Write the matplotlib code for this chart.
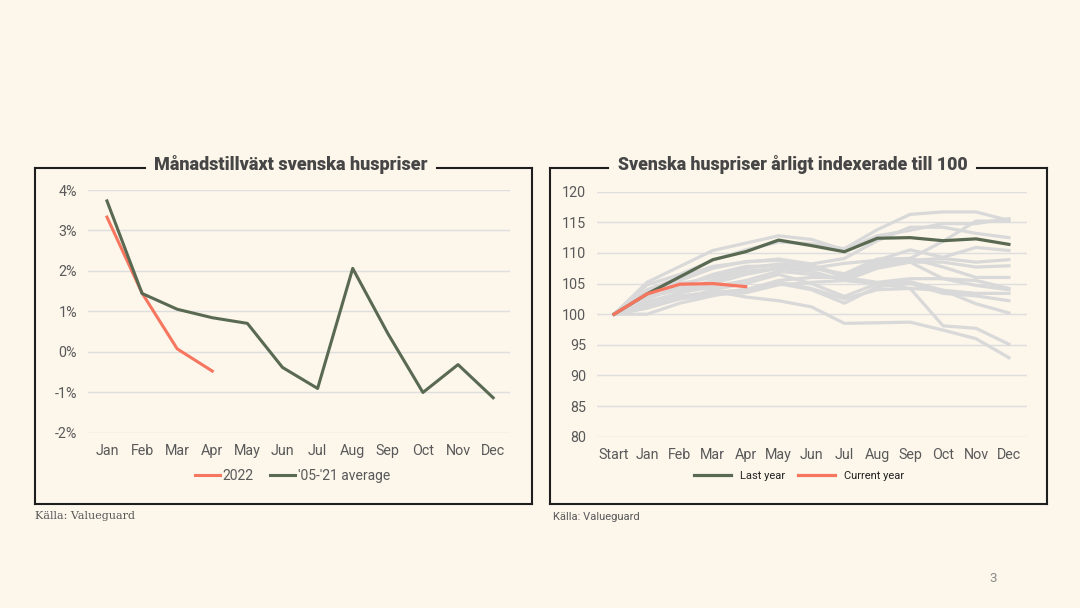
import matplotlib.pyplot as plt
from matplotlib.lines import Line2D

# --- data ---
months = ['Jan', 'Feb', 'Mar', 'Apr', 'May', 'Jun', 'Jul', 'Aug', 'Sep', 'Oct', 'Nov', 'Dec']
growth_2022 = [3.33, 1.45, 0.07, -0.48]
growth_avg = [3.73, 1.44, 1.05, 0.84, 0.70, -0.39, -0.91, 2.06, 0.45, -1.01, -0.32, -1.14]

idx_labels = ['Start'] + months
last_year = [100, 103.3, 106.1, 108.9, 110.2, 112.1, 111.2, 110.2, 112.4, 112.5, 112.0, 112.3, 111.4]
current_year = [100, 103.3, 104.9, 105.0, 104.5]
history = [
    [100, 104.8, 106.5, 108.8, 110.5, 111.8, 111.5, 110.7, 113.8, 116.3, 116.7, 116.7, 115.3],
    [100, 105.2, 107.8, 110.4, 111.6, 112.8, 112.2, 110.5, 112.8, 113.7, 114.8, 114.8, 115.6],
    [100, 103.0, 105.5, 107.5, 108.6, 108.8, 108.0, 106.3, 108.3, 109.1, 111.9, 115.2, 115.2],
    [100, 104.0, 106.0, 107.8, 108.5, 109.0, 108.2, 109.1, 112.0, 114.2, 114.2, 113.2, 112.5],
    [100, 102.5, 104.5, 106.5, 107.8, 107.9, 107.5, 108.3, 108.8, 110.5, 109.3, 110.9, 110.4],
    [100, 103.5, 105.0, 106.0, 107.5, 108.2, 107.8, 106.1, 108.5, 108.8, 109.1, 108.5, 108.9],
    [100, 101.5, 103.5, 105.0, 106.5, 107.5, 107.0, 105.5, 107.5, 108.5, 108.5, 107.7, 107.9],
    [100, 102.8, 104.0, 105.5, 107.0, 107.5, 107.5, 106.6, 109.0, 109.1, 107.7, 106.0, 106.0],
    [100, 102.0, 103.5, 104.5, 105.5, 107.0, 106.5, 105.8, 108.0, 108.5, 105.8, 105.5, 104.2],
    [100, 101.0, 102.5, 103.5, 104.0, 105.5, 106.0, 106.0, 105.2, 105.8, 105.8, 104.7, 104.0],
    [100, 103.8, 104.5, 104.0, 105.0, 106.5, 105.0, 102.9, 105.0, 105.3, 103.9, 103.4, 103.4],
    [100, 102.0, 103.0, 103.5, 104.0, 105.0, 104.0, 101.8, 104.5, 105.0, 103.4, 103.0, 102.2],
    [100, 100.0, 101.8, 103.0, 104.0, 105.2, 104.2, 102.5, 104.0, 104.2, 103.9, 101.7, 100.2],
    [100, 101.5, 102.5, 103.2, 103.5, 104.8, 105.2, 105.5, 105.0, 104.2, 98.1, 97.7, 95.1],
    [100, 101.0, 102.8, 103.8, 102.8, 102.2, 101.2, 98.5, 98.6, 98.7, 97.4, 96.0, 92.9],
]

BG = '#fcf6eb'
GREEN = '#5a6a52'
SALMON = '#f7765f'
GREY = '#d9d9d9'
TXT = '#595959'

plt.rcParams['font.family'] = ['Roboto', 'DejaVu Sans']

fig = plt.figure(figsize=(10.8, 6.08), dpi=100, facecolor=BG)


def px(x, y):
    return x / 1080, 1 - y / 608


def frame(x0, x1, y0, y1, gap0, gap1, title, size):
    kw = dict(color='#1e1e1e', lw=1.5, transform=fig.transFigure)
    for xs, ys in [((x0, x0), (y0, y1)), ((x0, x1), (y1, y1)), ((x1, x1), (y1, y0)),
                   ((x0, gap0), (y0, y0)), ((gap1, x1), (y0, y0))]:
        a, b = px(xs[0], ys[0])
        c, d = px(xs[1], ys[1])
        fig.add_artist(Line2D([a, c], [b, d], **kw))
    cx, cy = px((gap0 + gap1) / 2, y0 - 3)
    fig.text(cx, cy, title, ha='center', va='center', fontsize=size,
             fontweight='heavy', color='#464646')


def style(ax):
    ax.set_facecolor(BG)
    for s in ax.spines.values():
        s.set_visible(False)
    ax.grid(axis='y', color='#dedede', lw=1)
    ax.set_axisbelow(True)
    ax.tick_params(length=0, labelsize=10.3, labelcolor=TXT, pad=8)


# left chart
ax1 = fig.add_axes([88 / 1080, 1 - 432.5 / 608, 422 / 1080, 242.5 / 608])
style(ax1)
ax1.plot(range(len(growth_2022)), growth_2022, color=SALMON, lw=2.2, label='2022')
ax1.plot(range(len(growth_avg)), growth_avg, color=GREEN, lw=2.2, label="'05-'21 average")
ax1.set_xlim(-0.54, 11.48)
ax1.set_ylim(-2, 4)
ax1.set_yticks(range(-2, 5))
ax1.set_yticklabels([f'{v}%' for v in range(-2, 5)])
ax1.set_xticks(range(12))
ax1.set_xticklabels(months)
ax1.legend(loc='center', bbox_to_anchor=(0.485, -0.18), ncol=2, frameon=False,
           fontsize=10, labelcolor=TXT, handlelength=1.8, handletextpad=0.2,
           columnspacing=1.2)
frame(35, 532, 168, 504, 145, 437, 'Månadstillväxt svenska huspriser', 13)

# right chart
ax2 = fig.add_axes([597 / 1080, 1 - 436.7 / 608, 430 / 1080, 245 / 608])
style(ax2)
for s in history:
    ax2.plot(range(len(s)), s, color=GREY, lw=2.3)
ax2.plot(range(len(last_year)), last_year, color=GREEN, lw=2.3, label='Last year')
ax2.plot(range(len(current_year)), current_year, color=SALMON, lw=2.3, label='Current year')
ax2.set_xlim(-0.52, 12.55)
ax2.set_ylim(80, 120)
ax2.set_yticks(range(80, 121, 5))
ax2.set_xticks(range(13))
ax2.set_xticklabels(idx_labels)
ax2.legend(loc='center', bbox_to_anchor=(0.47, -0.16), ncol=2, frameon=False,
           fontsize=8, labelcolor='#222222', handlelength=3.3, handletextpad=0.8,
           columnspacing=1.2)
frame(550, 1047, 168, 504, 608, 977, 'Svenska huspriser årligt indexerade till 100', 12.8)

# footer texts
fig.text(*px(35, 516), 'Källa: Valueguard', fontsize=8, color=TXT,
         family='DejaVu Serif', va='center')
fig.text(*px(553, 517), 'Källa: Valueguard', fontsize=8, color=TXT, va='center')
fig.text(*px(993, 579), '3', fontsize=9.5, color='#8a8a8a', ha='center', va='center')

fig.savefig('out.png', dpi=100, facecolor=BG)
